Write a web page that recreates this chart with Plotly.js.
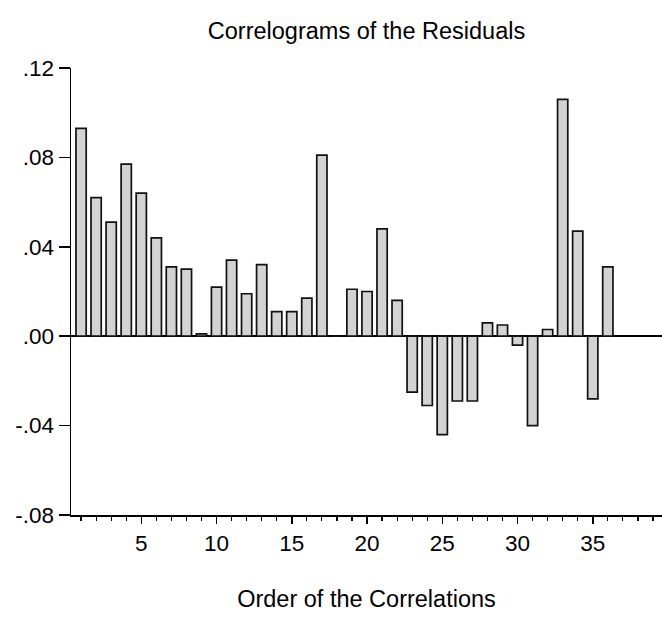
<!DOCTYPE html>
<html>
<head>
<meta charset="utf-8">
<script src="https://cdn.plot.ly/plotly-3.0.1.min.js"></script>
<style>
  html, body { margin: 0; padding: 0; background: #ffffff; }
  #chart { width: 662px; height: 618px; }
</style>
</head>
<body>
<div id="chart"></div>
<script>
const lags = [1,2,3,4,5,6,7,8,9,10,11,12,13,14,15,16,17,18,19,20,21,22,23,24,25,26,27,28,29,30,31,32,33,34,35,36];
const residualAcf = [0.093,0.062,0.051,0.077,0.064,0.044,0.031,0.030,0.001,0.022,0.034,0.019,0.032,0.011,0.011,0.017,0.081,0.000,
                     0.021,0.020,0.048,0.016,-0.025,-0.031,-0.044,-0.029,-0.029,0.006,0.005,-0.004,-0.040,0.003,0.106,0.047,-0.028,0.031];
const yTickVals = [-0.08,-0.04,0.00,0.04,0.08,0.12];
const yTickText = ['-.08','-.04','.00','.04','.08','.12'];
const xTickVals = [5,10,15,20,25,30,35];
const xTickText = ['5','10','15','20','25','30','35'];
const chartTitle = 'Correlograms of the Residuals';
const xTitle = 'Order of the Correlations';

const FONT = '"Liberation Sans", Arial, Helvetica, sans-serif';

const trace = {
  type: 'bar',
  x: lags,
  y: residualAcf,
  width: 0.68,
  marker: { color: '#d3d3d3', line: { color: '#111111', width: 1.7 } },
  hoverinfo: 'x+y'
};

const layout = {
  width: 662,
  height: 618,
  paper_bgcolor: '#ffffff',
  plot_bgcolor: '#ffffff',
  margin: { l: 70.5, r: 0, t: 68, b: 103, pad: 0 },
  showlegend: false,
  bargap: 0,
  font: { family: FONT, color: '#000000', size: 22 },
  title: {
    text: chartTitle,
    font: { family: FONT, size: 23.5, color: '#000000' },
    x: 0.5, xref: 'paper', xanchor: 'center',
    y: 1 - 31/618, yref: 'container', yanchor: 'middle'
  },
  xaxis: {
    range: [0.33, 39.6],
    showgrid: false,
    zeroline: false,
    showline: true,
    linecolor: '#000000',
    linewidth: 1.5,
    tickmode: 'array',
    tickvals: xTickVals,
    ticktext: xTickText,
    ticks: 'outside',
    ticklen: 7,
    tickwidth: 1.5,
    tickcolor: '#000000',
    tickfont: { family: FONT, size: 22.5, color: '#000000' },
    minor: { dtick: 1, tick0: 0, ticks: 'outside', ticklen: 4, tickwidth: 1.2, tickcolor: '#000000', showgrid: false },
    title: { text: xTitle, font: { family: FONT, size: 23.5, color: '#000000' }, standoff: 36 },
    automargin: false,
    fixedrange: true
  },
  yaxis: {
    range: [-0.08, 0.12],
    showgrid: false,
    zeroline: true,
    zerolinecolor: '#000000',
    zerolinewidth: 1.5,
    showline: true,
    linecolor: '#000000',
    linewidth: 1.5,
    tickmode: 'array',
    tickvals: yTickVals,
    ticktext: yTickText,
    ticks: 'outside',
    ticklen: 11,
    tickwidth: 1.5,
    tickcolor: '#000000',
    tickfont: { family: FONT, size: 22.5, color: '#000000' },
    automargin: false,
    fixedrange: true
  }
};

Plotly.newPlot('chart', [trace], layout, { displayModeBar: false, staticPlot: true });
</script>
</body>
</html>
